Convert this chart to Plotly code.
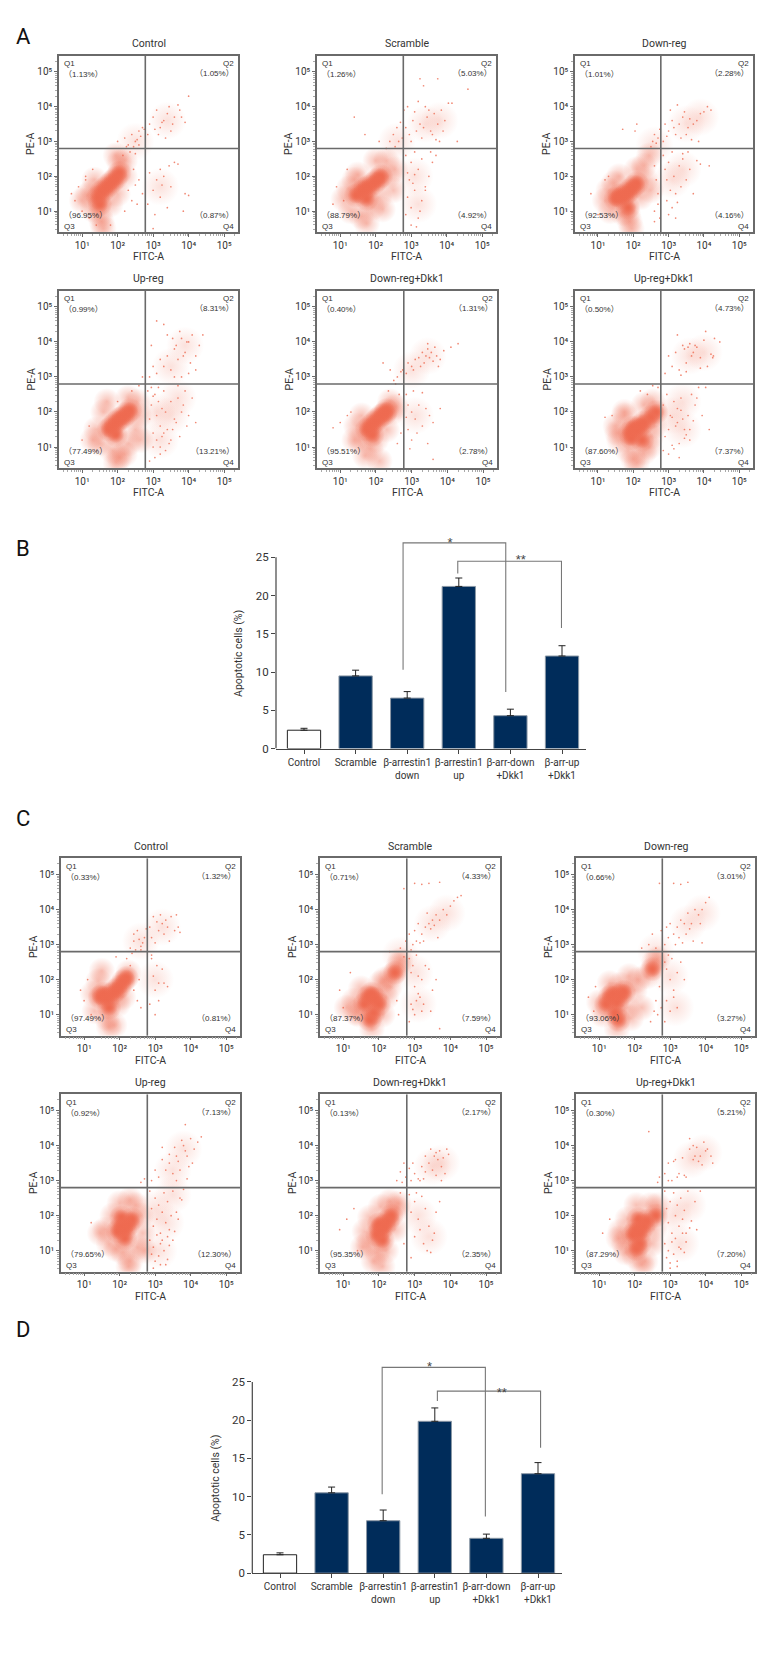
import plotly.graph_objects as go

# ---------- flow panels: values are log10(intensity) ----------
titles = ["Control", "Scramble", "Down-reg", "Up-reg", "Down-reg+Dkk1", "Up-reg+Dkk1"]
pct_a = [["1.13%", "1.05%", "96.95%", "0.87%"], ["1.26%", "5.03%", "88.79%", "4.92%"], ["1.01%", "2.28%", "92.53%", "4.16%"],
         ["0.99%", "8.31%", "77.49%", "13.21%"], ["0.40%", "1.31%", "95.51%", "2.78%"], ["0.50%", "4.73%", "87.60%", "7.37%"]]
pct_c = [["0.33%", "1.32%", "97.49%", "0.81%"], ["0.71%", "4.33%", "87.37%", "7.59%"], ["0.66%", "3.01%", "93.06%", "3.27%"],
         ["0.92%", "7.13%", "79.65%", "12.30%"], ["0.13%", "2.17%", "95.35%", "2.35%"], ["0.30%", "5.21%", "87.29%", "7.20%"]]
gate_x = 2.78
gate_y = 2.8

a1_mist_x = [3.4, 2.5, 3.2]
a1_mist_y = [3.6, 3.0, 1.7]
a2_mist_x = [3.4, 3.8, 3.1, 3.2, 2.6]
a2_mist_y = [3.5, 3.6, 2.0, 1.2, 3.0]
a3_mist_x = [3.5, 3.9, 3.1, 3.4, 2.6]
a3_mist_y = [3.5, 3.7, 1.9, 2.2, 2.9]
b1_mist_x = [3.5, 3.9, 3.1, 3.5, 3.2, 3.7]
b1_mist_y = [3.3, 3.9, 2.0, 1.9, 1.2, 2.4]
b2_mist_x = [3.45, 3.0, 3.1]
b2_mist_y = [3.6, 3.2, 1.9]
b3_mist_x = [3.6, 4.0, 3.1, 3.4, 3.4]
b3_mist_y = [3.6, 3.7, 1.9, 1.5, 2.3]
c1_mist_x = [3.2, 2.6, 3.0]
c1_mist_y = [3.5, 3.1, 2.0]
c2_mist_x = [3.5, 3.9, 3.0, 3.1, 2.6]
c2_mist_y = [3.6, 3.9, 2.2, 1.3, 2.7]
c3_mist_x = [3.5, 3.9, 3.0, 3.15, 2.6]
c3_mist_y = [3.6, 3.9, 2.1, 1.2, 2.8]
d1_mist_x = [3.5, 3.8, 3.0, 3.3, 3.1, 3.5]
d1_mist_y = [3.3, 3.9, 2.2, 1.8, 1.0, 2.6]
d2_mist_x = [3.5, 3.75, 3.1, 3.4]
d2_mist_y = [3.4, 3.5, 2.0, 1.4]
d3_mist_x = [3.6, 3.95, 3.1, 3.3, 3.5]
d3_mist_y = [3.6, 3.8, 2.0, 1.2, 2.3]

a1_core_x = [1.45, 1.55, 1.65, 1.75, 1.85, 1.95, 2.05, 1.5]
a1_core_y = [1.4, 1.55, 1.65, 1.75, 1.85, 1.95, 2.1, 1.2]
a1_halo_x = [1.15, 1.3, 1.35, 1.5, 1.55, 1.6, 1.8, 2.0, 2.2, 2.05, 2.2, 1.95, 1.3, 1.0]
a1_halo_y = [1.45, 1.05, 1.9, 0.9, 0.7, 0.5, 1.2, 1.5, 2.0, 2.4, 2.45, 2.6, 1.6, 1.3]
a1_dots_x = [2.9, 3.0, 3.1, 3.2, 3.3, 3.4, 3.5, 3.6, 3.7, 3.8, 3.9, 4.0, 3.15, 3.35, 3.55, 2.85, 3.05, 3.25, 3.75, 3.45, 2.0, 2.2, 2.3, 2.4, 2.5, 2.6, 2.7, 2.35, 2.45, 2.55, 2.65, 2.75, 2.15, 2.25, 2.5, 2.6, 2.9, 3.0, 3.1, 3.2, 3.3, 3.4, 3.5, 3.6, 3.9, 4.0, 2.85, 3.05, 3.25, 3.45, 3.0, 3.2, 3.7, 3.85, 0.8, 0.9, 1.0, 1.1, 1.2, 1.3, 2.3, 2.4, 2.5, 2.6, 2.7, 2.2, 2.45, 2.55, 1.4, 1.8, 1.1, 0.7]
a1_dots_y = [3.5, 3.7, 3.9, 3.4, 3.6, 3.8, 3.3, 3.7, 4.05, 3.7, 3.55, 4.3, 3.2, 3.1, 3.5, 3.2, 3.35, 3.55, 3.9, 4.0, 3.0, 3.1, 2.9, 3.2, 3.0, 3.3, 3.4, 2.7, 2.85, 3.05, 3.15, 3.35, 2.6, 2.85, 2.65, 2.9, 2.1, 1.6, 1.9, 1.4, 2.0, 1.1, 1.7, 2.4, 1.5, 1.45, 1.2, 0.9, 1.75, 2.3, 0.5, 2.2, 2.35, 1.0, 1.3, 1.7, 1.0, 2.0, 0.8, 2.2, 1.6, 1.3, 1.75, 1.9, 1.5, 1.0, 2.2, 1.2, 0.6, 0.6, 1.9, 1.5]

a2_core_x = [1.45, 1.6, 1.7, 1.8, 1.95, 2.05, 2.15, 1.75]
a2_core_y = [1.45, 1.55, 1.65, 1.7, 1.8, 1.9, 2.0, 1.35]
a2_halo_x = [1.1, 1.3, 1.4, 1.6, 1.75, 1.9, 2.1, 2.35, 2.5, 2.3, 2.0, 1.25, 1.5, 2.55, 2.2]
a2_halo_y = [1.35, 1.0, 1.9, 0.85, 0.65, 1.1, 1.4, 2.0, 1.6, 2.45, 2.45, 1.65, 2.05, 2.2, 1.05]
a2_dots_x = [2.85, 2.95, 3.05, 3.15, 3.25, 3.35, 3.45, 3.55, 3.65, 3.75, 3.85, 3.95, 4.05, 4.15, 3.0, 3.1, 3.3, 3.5, 3.7, 3.9, 2.9, 3.2, 3.4, 3.6, 3.8, 3.25, 3.35, 3.75, 4.6, 4.3, 2.85, 2.9, 3.0, 3.05, 3.1, 3.2, 3.3, 3.4, 3.5, 3.6, 2.9, 3.0, 3.1, 3.2, 3.3, 2.85, 3.0, 3.15, 3.25, 3.4, 3.1, 3.55, 3.7, 2.95, 2.4, 2.5, 2.6, 2.7, 2.3, 2.55, 2.65, 2.75, 1.4, 0.8, 0.9, 1.1, 1.2, 2.8, 2.1, 1.7]
a2_dots_y = [3.4, 3.2, 3.6, 3.3, 3.5, 3.4, 3.7, 3.3, 3.8, 3.5, 3.9, 3.6, 4.1, 4.1, 3.0, 3.85, 3.1, 3.9, 3.05, 3.3, 4.0, 4.15, 4.0, 3.2, 3.0, 4.8, 4.6, 4.8, 4.5, 3.0, 2.6, 2.1, 2.4, 1.8, 2.7, 2.2, 2.5, 1.6, 2.0, 2.4, 1.4, 1.1, 1.6, 0.8, 1.3, 0.9, 0.6, 0.55, 1.0, 1.7, 2.05, 2.7, 2.6, 1.9, 3.0, 3.2, 3.4, 3.55, 2.8, 2.85, 3.0, 3.1, 3.7, 1.2, 1.7, 1.3, 2.2, 3.9, 3.0, 3.2]

a3_core_x = [1.5, 1.6, 1.7, 1.8, 1.9, 2.0, 2.1, 1.85]
a3_core_y = [1.35, 1.45, 1.4, 1.5, 1.6, 1.7, 1.8, 1.1]
a3_halo_x = [1.2, 1.35, 1.45, 1.7, 1.9, 1.95, 2.2, 2.35, 2.3, 2.45, 2.1, 1.3, 1.6, 1.85, 2.5]
a3_halo_y = [1.3, 1.0, 1.8, 0.95, 0.7, 0.5, 1.4, 1.9, 2.3, 2.6, 2.2, 1.6, 2.0, 0.9, 1.6]
a3_dots_x = [2.85, 2.9, 3.0, 3.1, 3.2, 3.3, 3.4, 3.5, 3.6, 3.7, 3.8, 3.9, 4.0, 4.1, 4.2, 3.05, 3.25, 3.45, 3.65, 3.85, 2.95, 3.15, 3.35, 3.55, 2.85, 2.9, 2.95, 3.0, 3.05, 3.1, 3.15, 3.2, 3.3, 3.35, 3.4, 3.5, 3.6, 3.7, 3.8, 3.9, 4.15, 2.95, 3.1, 3.25, 3.4, 3.55, 3.0, 3.2, 2.55, 2.6, 2.65, 2.7, 2.75, 2.5, 2.6, 2.7, 1.7, 2.05, 2.1, 1.3, 0.8, 1.0, 1.2, 2.6, 2.7, 2.75, 2.65, 2.6]
a3_dots_y = [3.0, 3.5, 3.3, 3.6, 3.2, 3.5, 3.7, 3.2, 3.65, 3.5, 3.6, 3.8, 3.85, 4.0, 3.9, 3.9, 4.05, 3.85, 3.05, 3.0, 3.15, 3.4, 3.1, 3.4, 2.6, 2.2, 1.9, 2.4, 1.6, 2.7, 2.0, 1.5, 2.3, 1.7, 2.5, 1.9, 2.2, 1.5, 2.45, 2.35, 2.3, 1.3, 1.1, 1.25, 2.65, 2.7, 0.9, 0.8, 3.0, 3.2, 2.95, 3.1, 3.35, 2.85, 2.3, 1.2, 3.35, 3.3, 3.5, 2.0, 1.5, 0.9, 1.9, 1.0, 1.5, 0.8, 1.9, 0.7]

b1_core_x = [1.75, 1.85, 1.95, 2.05, 2.15, 2.25, 2.35, 1.95]
b1_core_y = [1.5, 1.6, 1.7, 1.8, 1.85, 1.95, 2.05, 1.35]
b1_halo_x = [1.4, 1.5, 1.6, 1.85, 2.05, 2.3, 2.5, 2.6, 2.55, 2.3, 1.7, 1.95, 2.2, 1.3, 2.65]
b1_halo_y = [1.5, 1.1, 2.0, 0.9, 0.7, 1.1, 1.5, 1.9, 2.3, 2.4, 2.3, 0.55, 0.8, 1.2, 1.2]
b1_dots_x = [2.9, 3.0, 3.1, 3.2, 3.3, 3.4, 3.5, 3.6, 3.7, 3.8, 3.9, 4.0, 4.1, 4.2, 4.3, 4.4, 3.55, 3.65, 3.75, 3.85, 3.95, 4.05, 3.6, 3.8, 4.0, 4.2, 3.4, 3.3, 3.1, 2.95, 2.85, 2.9, 2.95, 3.0, 3.05, 3.1, 3.15, 3.2, 3.25, 3.3, 3.35, 3.4, 3.5, 3.6, 3.7, 3.8, 3.9, 4.0, 4.1, 4.2, 3.0, 3.1, 3.2, 3.3, 3.45, 3.55, 3.65, 3.75, 3.85, 3.95, 2.9, 3.05, 3.2, 3.35, 3.5, 3.7, 3.0, 3.15, 2.95, 3.25, 1.2, 1.0, 2.4, 2.6, 2.7, 2.0]
b1_dots_y = [3.0, 3.3, 3.1, 3.5, 3.3, 3.6, 3.2, 3.8, 3.5, 4.1, 3.7, 4.0, 4.2, 3.2, 3.9, 4.2, 4.1, 3.9, 4.3, 3.6, 4.0, 3.4, 3.0, 3.0, 3.1, 3.6, 4.2, 4.5, 4.6, 3.9, 2.6, 1.8, 2.2, 1.4, 2.5, 1.9, 2.3, 1.6, 2.1, 2.6, 2.0, 1.5, 2.3, 1.8, 2.4, 2.0, 2.6, 1.9, 2.4, 1.7, 1.0, 1.2, 0.8, 1.4, 1.1, 1.5, 1.7, 1.3, 2.2, 1.6, 0.6, 0.7, 1.0, 0.9, 1.2, 2.75, 2.45, 2.7, 2.7, 1.3, 1.6, 1.2, 2.6, 2.75, 3.0, 2.3]

b2_core_x = [1.75, 1.85, 1.95, 2.05, 2.15, 2.25, 2.3, 1.9]
b2_core_y = [1.5, 1.6, 1.7, 1.8, 1.9, 1.95, 2.05, 1.35]
b2_halo_x = [1.45, 1.55, 1.6, 1.85, 2.0, 2.3, 2.45, 2.55, 2.4, 1.4, 1.7, 2.1]
b2_halo_y = [1.6, 1.2, 1.9, 0.95, 1.2, 1.5, 2.0, 2.15, 2.3, 1.2, 0.75, 0.6]
b2_dots_x = [3.2, 3.3, 3.35, 3.4, 3.45, 3.5, 3.55, 3.6, 3.7, 3.8, 3.9, 4.1, 4.3, 3.0, 3.1, 3.25, 3.45, 3.65, 3.75, 2.9, 2.85, 3.05, 2.85, 2.9, 3.0, 3.1, 3.2, 3.3, 3.4, 3.5, 3.6, 3.8, 2.9, 3.0, 3.15, 3.3, 3.45, 2.85, 3.05, 2.95, 2.2, 2.4, 2.5, 2.6, 2.7, 2.35, 2.55, 2.75, 2.65, 1.0, 0.8, 1.2, 1.3, 3.6, 2.7, 2.6]
b2_dots_y = [3.55, 3.7, 3.4, 3.6, 3.8, 3.55, 3.7, 3.45, 3.6, 3.5, 3.75, 3.85, 3.95, 3.3, 3.5, 3.3, 3.95, 3.85, 3.3, 3.4, 3.1, 3.2, 2.5, 2.2, 2.0, 1.8, 2.2, 1.6, 2.1, 1.9, 1.7, 2.1, 1.5, 1.2, 1.4, 2.55, 1.1, 1.85, 2.6, 0.95, 3.4, 3.2, 2.9, 3.0, 3.15, 2.6, 2.8, 3.2, 2.5, 1.7, 1.55, 1.9, 2.0, 0.65, 1.4, 1.1]

b3_core_x = [1.9, 2.0, 2.1, 2.2, 2.3, 2.5, 2.65, 2.25, 1.95]
b3_core_y = [1.4, 1.55, 1.5, 1.6, 1.7, 1.85, 2.0, 1.2, 1.25]
b3_halo_x = [1.5, 1.6, 1.75, 1.85, 2.0, 2.3, 2.5, 2.6, 2.55, 2.3, 1.75, 2.1, 2.45, 1.55]
b3_halo_y = [1.6, 1.2, 1.9, 0.9, 0.65, 0.85, 1.3, 1.6, 2.3, 2.2, 2.0, 0.55, 1.0, 1.4]
b3_dots_x = [2.9, 3.0, 3.1, 3.2, 3.3, 3.4, 3.5, 3.6, 3.7, 3.8, 3.9, 4.0, 4.1, 4.2, 4.3, 4.45, 3.45, 3.55, 3.65, 3.75, 3.25, 3.5, 3.9, 4.25, 4.27, 4.05, 3.35, 2.85, 2.95, 3.05, 3.15, 3.25, 3.35, 3.45, 3.55, 3.65, 3.75, 3.85, 3.95, 4.05, 2.9, 3.0, 3.1, 3.2, 3.3, 3.4, 3.5, 3.6, 3.7, 3.8, 2.85, 3.0, 3.15, 3.3, 3.45, 3.6, 3.1, 3.25, 3.35, 4.15, 1.2, 1.4, 2.2, 2.4, 2.55, 2.7]
b3_dots_y = [3.1, 3.6, 3.3, 3.7, 3.2, 3.9, 3.4, 3.95, 3.7, 3.85, 3.55, 4.05, 3.3, 3.65, 4.1, 4.0, 3.8, 3.85, 3.6, 3.9, 4.2, 3.15, 3.25, 3.55, 3.6, 4.3, 3.05, 2.2, 2.5, 1.9, 2.3, 1.7, 2.05, 1.5, 1.9, 2.5, 2.2, 2.7, 1.9, 2.7, 1.3, 1.5, 1.05, 1.6, 1.1, 1.8, 1.35, 1.5, 1.75, 2.4, 0.9, 0.8, 0.95, 0.7, 1.25, 1.2, 1.85, 2.1, 2.4, 1.5, 1.85, 1.9, 2.6, 2.5, 2.75, 2.7]

c1_core_x = [1.45, 1.55, 1.65, 1.8, 1.9, 2.0, 2.1, 2.2, 1.7]
c1_core_y = [1.5, 1.6, 1.45, 1.6, 1.7, 1.8, 1.95, 2.05, 1.2]
c1_halo_x = [1.25, 1.3, 1.4, 1.65, 1.7, 1.95, 2.1, 2.25, 1.5, 1.85]
c1_halo_y = [1.6, 1.1, 1.95, 0.9, 0.65, 1.3, 1.5, 2.2, 2.25, 0.7]
c1_dots_x = [2.85, 2.95, 3.05, 3.15, 3.25, 3.35, 3.45, 3.55, 3.6, 3.7, 2.9, 3.0, 3.1, 3.2, 3.3, 3.4, 3.65, 2.3, 2.4, 2.5, 2.6, 2.7, 2.75, 2.45, 2.55, 2.65, 2.4, 2.6, 2.9, 2.95, 3.0, 3.05, 3.1, 3.2, 3.25, 3.35, 2.85, 2.9, 3.0, 3.1, 1.0, 0.9, 1.1, 1.2, 2.4, 2.5, 2.55, 2.6, 2.3, 2.2, 1.9, 2.35]
c1_dots_y = [3.5, 3.8, 3.65, 3.85, 3.3, 3.5, 3.8, 3.4, 3.85, 3.35, 3.2, 3.05, 3.4, 3.6, 3.7, 3.1, 3.5, 2.9, 3.1, 3.4, 2.95, 3.2, 3.45, 2.85, 3.15, 3.05, 3.3, 2.85, 2.6, 2.1, 1.7, 2.4, 1.4, 2.3, 1.9, 1.8, 1.3, 2.7, 1.0, 1.9, 1.4, 1.7, 2.0, 1.0, 1.7, 1.4, 2.0, 1.2, 2.4, 2.6, 2.65, 2.75]

c2_core_x = [1.6, 1.7, 1.8, 1.9, 2.0, 1.85, 1.75, 2.45]
c2_core_y = [1.3, 1.5, 1.6, 1.45, 1.3, 1.05, 0.85, 2.2]
c2_halo_x = [1.3, 1.45, 1.5, 1.8, 2.1, 2.2, 2.3, 2.35, 2.55, 2.6, 1.35, 2.05, 2.15, 1.1]
c2_halo_y = [1.4, 1.0, 1.75, 0.6, 1.0, 1.5, 1.8, 2.1, 2.4, 2.55, 1.05, 1.9, 2.0, 1.2]
c2_dots_x = [3.3, 3.4, 3.45, 3.5, 3.55, 3.6, 3.7, 3.8, 3.9, 4.0, 4.1, 4.2, 4.3, 3.1, 3.2, 3.35, 3.65, 3.05, 2.85, 2.95, 2.9, 3.0, 3.15, 3.25, 3.0, 3.2, 3.4, 3.7, 2.7, 2.85, 2.9, 2.95, 3.0, 3.05, 3.1, 3.15, 3.2, 3.3, 3.4, 3.5, 3.6, 2.9, 3.0, 3.1, 3.2, 2.85, 2.95, 3.05, 3.25, 3.45, 2.6, 2.7, 2.75, 2.5, 2.55, 2.3, 0.9, 1.0, 1.2, 3.7]
c2_dots_y = [3.5, 3.6, 3.45, 3.7, 3.55, 3.85, 3.7, 4.0, 3.85, 4.1, 4.25, 4.35, 4.4, 3.6, 3.3, 3.9, 3.2, 3.1, 3.3, 3.0, 2.85, 3.4, 3.05, 3.1, 4.75, 4.72, 4.75, 4.78, 4.6, 2.6, 2.2, 2.4, 1.8, 2.7, 2.1, 1.5, 2.0, 2.4, 2.3, 1.7, 2.0, 1.3, 1.0, 1.6, 1.1, 0.8, 1.15, 1.4, 1.3, 1.1, 2.9, 2.65, 3.1, 1.4, 1.0, 2.8, 1.7, 1.2, 2.2, 0.6]

c3_core_x = [1.2, 1.3, 1.4, 1.5, 1.6, 1.7, 1.45, 1.55, 2.5]
c3_core_y = [1.3, 1.5, 1.6, 1.35, 1.55, 1.65, 1.05, 0.85, 2.3]
c3_halo_x = [1.0, 1.1, 1.3, 1.6, 1.8, 2.0, 2.1, 2.2, 2.35, 2.55, 2.65, 1.9, 1.5, 1.85]
c3_halo_y = [1.35, 1.0, 1.9, 1.85, 1.2, 1.7, 2.0, 1.2, 2.1, 2.5, 2.6, 0.9, 0.6, 2.1]
c3_dots_x = [3.0, 3.1, 3.2, 3.3, 3.4, 3.5, 3.6, 3.7, 3.8, 3.9, 4.0, 4.1, 3.25, 3.45, 3.65, 3.85, 2.85, 2.95, 3.15, 3.35, 3.55, 2.9, 3.1, 3.3, 3.5, 2.7, 2.4, 2.5, 2.6, 2.75, 2.2, 2.85, 2.9, 2.95, 3.0, 3.05, 3.1, 3.2, 3.3, 3.4, 2.9, 3.0, 3.1, 2.85, 3.2, 2.7, 2.75, 2.6, 2.65, 2.55, 2.45, 0.7, 0.85, 0.9, 3.9]
c3_dots_y = [3.6, 3.3, 3.5, 3.7, 3.6, 3.9, 3.6, 4.0, 3.85, 4.0, 4.2, 4.35, 3.2, 3.3, 3.1, 3.6, 3.0, 3.2, 3.0, 3.05, 3.45, 3.5, 4.75, 4.72, 4.78, 4.75, 3.0, 3.3, 2.9, 3.4, 2.9, 2.5, 2.3, 2.7, 2.0, 2.6, 1.7, 2.2, 2.5, 2.0, 1.4, 1.1, 1.5, 0.8, 1.2, 1.8, 1.2, 1.4, 1.0, 1.1, 0.8, 1.5, 1.1, 1.8, 3.05]

d1_core_x = [1.95, 2.05, 2.15, 2.25, 2.35, 2.15, 2.05]
d1_core_y = [1.55, 1.7, 1.6, 1.75, 1.9, 1.35, 1.95]
d1_halo_x = [1.6, 1.7, 1.8, 2.1, 2.3, 2.5, 2.65, 2.6, 2.45, 2.3, 2.0, 1.45, 2.25, 1.9, 2.7]
d1_halo_y = [1.6, 1.2, 2.0, 0.95, 0.7, 1.1, 1.5, 2.0, 2.3, 2.45, 2.35, 1.5, 0.55, 1.05, 1.0]
d1_dots_x = [2.9, 3.0, 3.1, 3.2, 3.3, 3.4, 3.5, 3.6, 3.7, 3.8, 3.9, 4.0, 4.1, 4.2, 4.3, 3.55, 3.65, 3.75, 3.85, 3.95, 3.2, 3.4, 3.6, 3.9, 4.05, 3.85, 2.85, 2.9, 2.95, 3.0, 3.05, 3.1, 3.15, 3.2, 3.25, 3.3, 3.35, 3.4, 3.5, 3.6, 3.7, 3.8, 2.85, 2.95, 3.05, 3.15, 3.25, 3.35, 3.45, 3.55, 3.65, 2.9, 3.0, 3.1, 3.2, 3.3, 3.4, 2.95, 3.15, 3.35, 3.5, 3.75, 1.2, 2.7, 2.6]
d1_dots_y = [3.0, 3.3, 3.1, 3.6, 3.3, 3.5, 3.2, 3.7, 3.3, 4.0, 3.7, 4.2, 3.9, 4.1, 4.25, 3.95, 3.55, 4.15, 3.85, 3.4, 3.95, 3.75, 3.0, 3.05, 3.5, 4.6, 2.7, 2.2, 1.7, 2.5, 1.9, 2.3, 1.5, 2.1, 2.65, 1.8, 2.4, 1.6, 2.7, 2.1, 2.5, 2.75, 1.3, 1.1, 1.45, 1.2, 1.0, 1.4, 2.0, 1.55, 1.9, 0.9, 0.7, 0.85, 1.3, 0.6, 1.15, 0.5, 0.6, 0.75, 1.3, 2.45, 1.8, 3.05, 2.95]

d2_core_x = [1.95, 2.05, 2.15, 2.25, 2.35, 2.1, 2.0]
d2_core_y = [1.45, 1.6, 1.7, 1.85, 2.0, 1.3, 1.75]
d2_halo_x = [1.6, 1.7, 1.75, 1.95, 2.2, 2.45, 2.5, 2.3, 1.85, 2.1, 1.55, 2.05, 2.55]
d2_halo_y = [1.55, 1.2, 1.95, 0.95, 1.0, 1.6, 2.2, 2.4, 0.7, 0.55, 1.1, 2.25, 2.35]
d2_dots_x = [2.9, 3.0, 3.1, 3.2, 3.3, 3.4, 3.5, 3.55, 3.6, 3.65, 3.7, 3.75, 3.8, 3.85, 3.9, 3.95, 3.3, 3.45, 3.6, 3.75, 3.15, 3.25, 2.85, 2.95, 2.5, 2.6, 2.65, 2.7, 2.75, 2.85, 2.9, 3.0, 3.05, 3.1, 3.2, 3.3, 3.4, 3.5, 3.6, 3.7, 3.15, 3.25, 3.35, 3.45, 3.55, 2.9, 3.0, 1.3, 1.1, 1.4, 0.9, 2.6, 2.7]
d2_dots_y = [3.0, 3.2, 3.05, 3.4, 3.25, 3.5, 3.3, 3.7, 3.15, 3.6, 3.85, 3.4, 3.65, 3.2, 3.9, 3.75, 3.7, 3.9, 3.8, 3.0, 3.0, 3.05, 3.35, 3.5, 3.0, 3.25, 2.95, 3.5, 3.1, 2.6, 2.1, 2.4, 2.65, 1.9, 2.55, 2.2, 1.7, 1.3, 2.1, 2.4, 1.6, 1.2, 1.0, 0.95, 1.5, 0.8, 1.4, 2.2, 1.9, 1.0, 1.6, 2.65, 1.2]

d3_core_x = [1.95, 2.05, 2.15, 2.25, 2.35, 2.6, 2.15, 2.1, 2.05]
d3_core_y = [1.45, 1.6, 1.5, 1.7, 1.85, 2.0, 1.2, 1.9, 1.05]
d3_halo_x = [1.6, 1.7, 1.8, 2.0, 2.3, 2.5, 2.55, 2.45, 2.05, 1.75, 2.2, 1.55, 2.65]
d3_halo_y = [1.55, 1.2, 1.9, 0.85, 0.7, 1.2, 1.6, 2.3, 2.3, 0.95, 0.6, 1.35, 2.3]
d3_dots_x = [2.85, 2.95, 3.05, 3.15, 3.25, 3.35, 3.45, 3.55, 3.65, 3.75, 3.85, 3.95, 4.05, 4.15, 4.2, 3.7, 3.8, 3.9, 4.0, 3.55, 3.65, 3.2, 3.4, 2.95, 3.1, 2.4, 2.85, 2.9, 2.95, 3.0, 3.05, 3.1, 3.15, 3.2, 3.25, 3.3, 3.35, 3.4, 3.45, 3.5, 3.6, 3.7, 3.85, 2.85, 2.95, 3.05, 3.15, 3.25, 3.35, 3.45, 3.55, 2.9, 3.0, 3.1, 3.2, 3.3, 3.4, 3.0, 3.2, 3.75, 1.3, 1.1, 2.65, 2.7]
d3_dots_y = [3.2, 3.5, 3.0, 3.6, 3.2, 3.65, 3.1, 3.9, 3.6, 3.95, 3.7, 4.1, 3.9, 3.7, 3.5, 3.7, 3.55, 3.45, 3.85, 4.2, 4.0, 3.1, 3.15, 3.0, 3.55, 4.4, 2.7, 2.2, 1.8, 2.4, 1.5, 2.65, 2.0, 2.3, 1.7, 2.5, 1.9, 2.15, 1.5, 2.7, 1.85, 2.4, 2.7, 1.2, 1.0, 1.25, 1.35, 1.1, 1.5, 1.25, 1.65, 0.8, 0.65, 0.9, 0.7, 1.05, 0.95, 0.5, 0.55, 1.6, 1.9, 1.5, 2.95, 3.1]

# ---------- bar panels ----------
bar_labels = ["Control", "Scramble", "β-arrestin1<br>down", "β-arrestin1<br>up", "β-arr-down<br>+Dkk1", "β-arr-up<br>+Dkk1"]
bar_b_values = [2.4, 9.5, 6.6, 21.2, 4.3, 12.1]
bar_b_errors = [0.25, 0.75, 0.85, 1.1, 0.85, 1.35]
bar_d_values = [2.4, 10.5, 6.85, 19.85, 4.55, 13.0]
bar_d_errors = [0.25, 0.75, 1.4, 1.75, 0.55, 1.45]
y_ticks = [0, 5, 10, 15, 20, 25]
brk_b1_x = [1.92, 1.92, 3.91, 3.91]
brk_b1_y = [10.3, 26.9, 26.9, 7.4]
brk_b2_x = [2.98, 2.98, 4.99, 4.99]
brk_b2_y = [22.9, 24.5, 24.5, 15.75]
brk_d1_x = [1.98, 1.98, 3.98, 3.98]
brk_d1_y = [10.3, 26.9, 26.9, 7.4]
brk_d2_x = [3.05, 3.05, 5.05, 5.05]
brk_d2_y = [22.5, 23.8, 23.8, 16.4]

W, H = 780, 1680
NARROW = "Roboto"
CLEAR = "rgba(238,106,80,0)"
RED = "#ee6a50"
LINE = "#6a6a6a"
INK = "#333333"

boxes = [
    (59, 238, 56, 233), (317, 496, 56, 233), (575, 753, 56, 233),
    (59, 238, 292, 470), (317, 497, 292, 470), (575, 753, 292, 470),
    (61, 240, 862, 1040), (320, 500, 862, 1040), (576, 755, 862, 1040),
    (61, 240, 1099, 1277), (320, 500, 1099, 1277), (576, 755, 1099, 1277),
]
clouds = [
    (a1_core_x, a1_core_y, a1_halo_x, a1_halo_y, a1_dots_x, a1_dots_y, a1_mist_x, a1_mist_y),
    (a2_core_x, a2_core_y, a2_halo_x, a2_halo_y, a2_dots_x, a2_dots_y, a2_mist_x, a2_mist_y),
    (a3_core_x, a3_core_y, a3_halo_x, a3_halo_y, a3_dots_x, a3_dots_y, a3_mist_x, a3_mist_y),
    (b1_core_x, b1_core_y, b1_halo_x, b1_halo_y, b1_dots_x, b1_dots_y, b1_mist_x, b1_mist_y),
    (b2_core_x, b2_core_y, b2_halo_x, b2_halo_y, b2_dots_x, b2_dots_y, b2_mist_x, b2_mist_y),
    (b3_core_x, b3_core_y, b3_halo_x, b3_halo_y, b3_dots_x, b3_dots_y, b3_mist_x, b3_mist_y),
    (c1_core_x, c1_core_y, c1_halo_x, c1_halo_y, c1_dots_x, c1_dots_y, c1_mist_x, c1_mist_y),
    (c2_core_x, c2_core_y, c2_halo_x, c2_halo_y, c2_dots_x, c2_dots_y, c2_mist_x, c2_mist_y),
    (c3_core_x, c3_core_y, c3_halo_x, c3_halo_y, c3_dots_x, c3_dots_y, c3_mist_x, c3_mist_y),
    (d1_core_x, d1_core_y, d1_halo_x, d1_halo_y, d1_dots_x, d1_dots_y, d1_mist_x, d1_mist_y),
    (d2_core_x, d2_core_y, d2_halo_x, d2_halo_y, d2_dots_x, d2_dots_y, d2_mist_x, d2_mist_y),
    (d3_core_x, d3_core_y, d3_halo_x, d3_halo_y, d3_dots_x, d3_dots_y, d3_mist_x, d3_mist_y),
]
percents = pct_a + pct_c
panel_titles = titles + titles


def up(values):
    return [10 ** v for v in values]


def axis_ids(n):
    return ("x", "y") if n == 1 else (f"x{n}", f"y{n}")


fig = go.Figure()
layout = dict(
    width=W, height=H, margin=dict(l=0, r=0, t=0, b=0), autosize=False,
    paper_bgcolor="white", plot_bgcolor="white", showlegend=False,
)
annots = []
shapes = []
decades = [10, 100, 1000, 10000, 100000]
dec_text = ["10¹", "10²", "10³", "10⁴", "10⁵"]
minor_vals = [m * 10 ** k for k in range(0, 6) for m in range(2, 10)]


def note(x, y, text, size, xa="center", ya="middle", family=NARROW, color=INK, textangle=0):
    annots.append(dict(xref="paper", yref="paper", x=x, y=y, text=text, showarrow=False, xanchor=xa, yanchor=ya,
                       font=dict(family=family, size=size, color=color), textangle=textangle))


def soft(xs, ys, xn, yn, size, opacity):
    fig.add_trace(go.Scatter(x=up(xs), y=up(ys), xaxis=xn, yaxis=yn, mode="markers", hoverinfo="skip",
                             marker=dict(size=size, color=CLEAR, opacity=opacity, line=dict(width=0),
                                         gradient=dict(type="radial", color=RED))))


for i, ((x0, x1, y0, y1), cloud) in enumerate(zip(boxes, clouds)):
    n = i + 1
    xn, yn = axis_ids(n)
    cx, cy, hx, hy, dx, dy, mx, my = cloud
    soft(mx, my, xn, yn, 38, 0.2)
    soft(hx, hy, xn, yn, 27, 0.42)
    soft(cx, cy, xn, yn, 25, 1)
    soft(cx, cy, xn, yn, 17, 1)
    fig.add_trace(go.Scatter(x=up(dx), y=up(dy), xaxis=xn, yaxis=yn, mode="markers", hoverinfo="skip",
                             marker=dict(size=1.7, color=RED, opacity=0.8, line=dict(width=0))))
    ax_common = dict(type="log", showgrid=False, zeroline=False, showline=True, mirror=True, linecolor=LINE, linewidth=1.6,
                     ticks="outside", ticklen=3, tickcolor=LINE, tickvals=decades, ticktext=dec_text,
                     tickfont=dict(family=NARROW, size=10, color=INK),
                     minor=dict(ticks="outside", ticklen=2, tickcolor="#aaaaaa", tickvals=minor_vals, showgrid=False))
    layout[f"xaxis{n}"] = dict(domain=[x0 / W, x1 / W], range=[0.35, 5.39], anchor=yn, **ax_common)
    layout[f"yaxis{n}"] = dict(domain=[1 - y1 / H, 1 - y0 / H], range=[0.4, 5.46], anchor=xn, **ax_common)
    for kw in (dict(x0=10 ** gate_x, x1=10 ** gate_x, y0=0, y1=1, xref=xn, yref=f"{yn} domain"),
               dict(x0=0, x1=1, y0=10 ** gate_y, y1=10 ** gate_y, xref=f"{xn} domain", yref=yn)):
        shapes.append(dict(type="line", line=dict(color=LINE, width=1.6), **kw))
    cxf = (x0 + x1) / 2 / W
    note(cxf, 1 - (y0 - 12) / H, panel_titles[i], 10.5)
    note(cxf, 1 - (y1 + 25) / H, "FITC-A", 10.5)
    note((x0 - 28) / W, 1 - (y0 + y1) / 2 / H, "PE-A", 10.5, textangle=-90)
    q1, q2, q3, q4 = percents[i]
    lf, rf = (x0 + 3) / W, (x1 - 2) / W
    sans = "Liberation Sans"
    cjk = "Liberation Sans, Noto Sans CJK SC"
    note(lf, 1 - (y0 + 8) / H, "Q1", 8, "left", family=sans)
    note(rf, 1 - (y0 + 8) / H, "Q2", 8, "right", family=sans)
    note(lf, 1 - (y1 - 6) / H, "Q3", 8, "left", family=sans)
    note(rf, 1 - (y1 - 6) / H, "Q4", 8, "right", family=sans)
    note(lf, 1 - (y0 + 19) / H, f"（{q1}）", 8, "left", family=cjk)
    note(rf, 1 - (y0 + 18) / H, f"（{q2}）", 8, "right", family=cjk)
    note(lf, 1 - (y1 - 17) / H, f"（{q3}）", 8, "left", family=cjk)
    note(rf, 1 - (y1 - 17) / H, f"（{q4}）", 8, "right", family=cjk)

y_top = 28
bar_sets = [
    (13, 276, 586, 559.7, 751.7, 304, bar_b_values, bar_b_errors, brk_b1_x, brk_b1_y, brk_b2_x, brk_b2_y, 2.83, 26.8, 4.2, 24.6),
    (14, 252.3, 561.7, 1387.7, 1579.7, 280, bar_d_values, bar_d_errors, brk_d1_x, brk_d1_y, brk_d2_x, brk_d2_y, 2.9, 26.8, 4.3, 23.5),
]
for n, x0, x1, y0, y1, first, vals, errs, b1x, b1y, b2x, b2y, s1x, s1y, s2x, s2y in bar_sets:
    xn, yn = axis_ids(n)
    step = 51.6
    fig.add_trace(go.Bar(x=list(range(6)), y=vals, xaxis=xn, yaxis=yn, width=0.645,
                         marker=dict(color=["white"] + ["#002c5a"] * 5, line=dict(color=["#222222"] + ["#8a97a5"] * 5, width=1)),
                         error_y=dict(type="data", array=errs, arrayminus=[0] * 6, symmetric=False, color="#222222", thickness=1, width=3.5),
                         hoverinfo="skip"))
    for bx, by in ((b1x, b1y), (b2x, b2y)):
        fig.add_trace(go.Scatter(x=bx, y=by, xaxis=xn, yaxis=yn, mode="lines", hoverinfo="skip",
                                 line=dict(color="#777777", width=1.1)))
    fig.add_trace(go.Scatter(x=[s1x, s2x], y=[s1y, s2y], xaxis=xn, yaxis=yn, mode="text", text=["*", "**"], cliponaxis=False,
                             hoverinfo="skip", textfont=dict(family="Liberation Sans", size=13, color="#444444")))
    px_per_unit = (y1 - y0) / 25
    top_px = y1 - y_top * px_per_unit
    layout[f"xaxis{n}"] = dict(domain=[x0 / W, x1 / W], range=[(x0 - first) / step, (x1 - first) / step], anchor=yn,
                               showgrid=False, zeroline=False, showline=True, linecolor="#444444", linewidth=1.2,
                               ticks="outside", ticklen=4, tickcolor="#444444", tickvals=list(range(6)), ticktext=bar_labels,
                               tickangle=0, tickfont=dict(family=NARROW, size=10, color=INK))
    layout[f"yaxis{n}"] = dict(domain=[1 - y1 / H, 1 - top_px / H], range=[0, y_top], anchor=xn,
                               showgrid=False, zeroline=False, showline=False,
                               ticks="outside", ticklen=4, tickcolor="#444444", tickvals=y_ticks,
                               tickfont=dict(family=NARROW, size=11.5, color=INK))
    shapes.append(dict(type="line", xref=f"{xn} domain", yref=yn, x0=0, x1=0, y0=0, y1=25, line=dict(color="#444444", width=1.2)))
    note((x0 - 37) / W, 1 - ((y0 + y1) / 2 + 1) / H, "Apoptotic cells (%)", 10.5, textangle=-90)

for letter, lx, ly in (("A", 23, 37), ("B", 23, 551), ("C", 23, 822), ("D", 23, 1335)):
    note(lx / W, 1 - ly / H, letter, 22, color="#111111")

layout["annotations"] = annots
layout["shapes"] = shapes
fig.update_layout(**layout)
fig.write_html("out.html", config={"displayModeBar": False},
               post_script="document.body.style.margin='0';document.body.style.overflow='hidden';")
